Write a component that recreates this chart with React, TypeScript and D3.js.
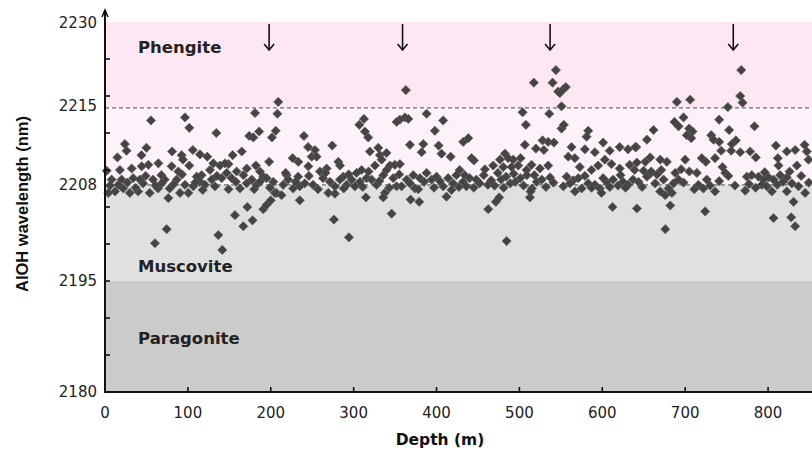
import { useEffect, useRef } from 'react';
import * as d3 from 'd3';

// [depth (m), AlOH wavelength (nm)], split by depth range
const shallowPoints: [number, number][] = [
  [55.5, 2216.7], [96.5, 2217.1], [101.7, 2215.7], [134.3, 2215.0], [181, 2217.7],
  [174, 2214.6], [179, 2214.4], [186, 2215.2], [201.4, 2214.4], [209, 2219.2],
  [208, 2217.6], [206, 2215.3],
  [24, 2213.5], [26, 2212.6], [15, 2211.7], [44, 2212.0], [50, 2213.0], [81, 2212.5],
  [92.5, 2212.0], [94, 2211.4], [106, 2212.7], [114.6, 2212.1], [123.4, 2211.8],
  [130.7, 2210.9], [154, 2212.0], [165, 2212.5], [149, 2210.8], [182, 2210.6],
  [198, 2211.1], [80.4, 2210.5], [101.7, 2210.6], [64.4, 2210.9], [52.3, 2210.7],
  [32.2, 2210.2], [44.3, 2210.5], [2, 2209.9], [116.6, 2209.3], [126.7, 2210.0],
  [138.7, 2210.6], [144.8, 2210.9], [158.8, 2209.8], [171, 2210.2], [187, 2209.8],
  [191, 2209.1], [18, 2210.0], [68, 2209.3], [88.5, 2209.8], [110.6, 2209.1],
  [8, 2208.7], [12, 2207.1], [4, 2206.9], [20, 2208.7], [30, 2206.9], [34, 2208.9],
  [40, 2207.1], [46, 2208.2], [54, 2206.9], [58, 2208.7], [64, 2207.5], [72, 2208.7],
  [78, 2207.5], [86.5, 2208.7], [90.5, 2206.9], [96.5, 2208.0], [100.5, 2206.9],
  [106.6, 2207.8], [114.6, 2208.4], [120.6, 2208.0], [128.7, 2208.7], [132.7, 2207.8],
  [140.7, 2208.9], [146.8, 2209.6], [152.8, 2208.9], [162.8, 2207.5], [170.9, 2208.2],
  [177, 2208.7], [183, 2208.0], [187, 2208.4], [195, 2208.9], [203, 2208.4],
  [207, 2206.9], [22, 2207.5], [42, 2208.7], [68.4, 2208.2], [16, 2208.0],
  [76.4, 2206.2], [156.8, 2203.9], [171.7, 2205.0], [166.9, 2202.4], [178, 2203.2],
  [191, 2204.7], [195, 2205.3], [200, 2205.9], [205, 2206.9], [74.4, 2202.0],
  [60.3, 2200.1], [136.7, 2201.2], [141.5, 2199.2],
];

const upperMidPoints: [number, number][] = [
  [363, 2220.8], [355.8, 2216.8], [361.9, 2217.1], [365.9, 2216.9], [351.8, 2216.5],
  [388, 2217.6], [408, 2216.7], [398, 2215.3], [312.4, 2216.9], [306.8, 2216.1],
  [313.6, 2215.2], [317.6, 2214.4], [240, 2214.6], [274.2, 2213.3], [367.9, 2213.4],
  [384, 2213.5], [402.5, 2213.3], [382, 2212.4], [406, 2212.2], [417, 2211.8],
  [245, 2213.1], [253.3, 2212.7], [249.3, 2211.8], [226.4, 2211.6], [233.2, 2211.1],
  [245.3, 2210.5], [255.3, 2211.8], [281.5, 2211.1], [283.5, 2210.6], [319.6, 2212.5],
  [329.7, 2213.0], [331.7, 2212.0], [339.7, 2212.3], [333.7, 2211.4], [325.7, 2210.6],
  [343.8, 2210.6], [349.8, 2210.7], [355.8, 2210.8], [339.7, 2210.0], [309.6, 2210.0],
  [303.6, 2209.6], [287.5, 2209.1], [267.4, 2210.2], [259.3, 2209.8], [219.1, 2209.3],
  [215, 2208.0], [221, 2208.7], [227, 2207.5], [233, 2209.1], [235, 2207.8],
  [241, 2208.2], [251, 2208.0], [263, 2208.9], [271.4, 2208.4], [277.4, 2207.8],
  [283.5, 2208.7], [291.5, 2208.0], [297.5, 2208.7], [301.5, 2207.8], [307.6, 2208.4],
  [315.6, 2208.9], [321.6, 2208.7], [327.7, 2208.0], [335.7, 2209.3], [347.8, 2208.9],
  [351.8, 2207.8], [357.8, 2207.8], [363.9, 2208.7], [371.9, 2209.3], [373.9, 2207.5],
  [380, 2208.9], [388, 2209.6], [394, 2208.7], [400, 2209.1], [408, 2207.8],
  [414, 2208.9], [420, 2208.2], [424, 2209.3], [213, 2206.6], [269.4, 2206.9],
  [277.4, 2206.8],
  [235, 2205.9], [314.8, 2206.3], [337.7, 2206.9], [335.7, 2206.3], [368.7, 2206.0],
  [379.1, 2205.7], [412, 2206.4], [345.8, 2204.1], [276.2, 2203.3], [294.3, 2200.9],
];

const lowerMidPoints: [number, number][] = [
  [544, 2223.5], [517.4, 2221.8], [540, 2221.8], [546.8, 2220.6], [548.8, 2220.4],
  [552.8, 2220.9], [556, 2221.2], [550.8, 2218.6], [503.8, 2217.8], [536, 2217.6],
  [507.8, 2216.1], [550.8, 2215.6], [553.6, 2216.1], [438.3, 2214.3], [432.2, 2213.8],
  [583, 2215.3], [581, 2214.5], [506.6, 2213.4], [527.9, 2214.0], [534.7, 2213.8],
  [541.6, 2213.7], [519.9, 2212.9], [529.5, 2212.7], [601, 2213.7], [562.9, 2213.1],
  [558.9, 2211.8], [566.9, 2211.6], [579, 2212.8], [591, 2212.4], [609, 2212.6],
  [621, 2213.1], [631, 2212.8], [641, 2213.1], [442.3, 2211.6], [445.1, 2211.3],
  [482.5, 2212.2], [486.5, 2211.6], [492.5, 2211.4], [501.4, 2211.6], [476.5, 2211.4],
  [468.4, 2210.6], [458.4, 2210.1], [480.5, 2210.4], [490.5, 2210.4], [498.6, 2210.6],
  [508.6, 2210.0], [524.7, 2210.2], [534.7, 2210.6], [514.6, 2210.7], [572.9, 2210.4],
  [587, 2210.0], [595, 2210.6], [603, 2211.4], [611, 2210.8], [621, 2210.2],
  [633, 2210.7], [639, 2210.0], [428, 2210.0], [434, 2209.3],
  [440, 2208.9], [448, 2208.7], [452, 2208.2], [462, 2208.0], [470, 2207.9],
  [478, 2208.7], [484, 2209.1], [489, 2208.2], [495, 2208.4], [501, 2208.9],
  [509, 2209.3], [521, 2208.4], [527, 2208.7], [532, 2207.7], [515, 2207.5],
  [537, 2209.0], [557, 2209.1], [565, 2208.6], [571, 2208.9], [567, 2207.1],
  [575, 2207.5], [583, 2208.2], [591, 2208.0], [597, 2207.5], [605, 2208.4],
  [613, 2208.7], [619, 2207.9], [625, 2208.4], [631, 2208.0], [637, 2208.7],
  [432, 2208.4], [436, 2207.8],
  [462.4, 2204.7], [471.6, 2205.7], [475.6, 2206.3], [512.6, 2206.3], [513.4, 2207.1],
  [484.5, 2200.4], [612.3, 2205.0], [599, 2206.9],
];

const deepPoints: [number, number][] = [
  [767.6, 2223.5], [690, 2219.2], [706, 2219.5], [766.4, 2220.0], [769.2, 2219.1],
  [751.5, 2218.5], [687, 2216.5], [698, 2217.1], [692, 2215.9], [704.8, 2215.6],
  [708.9, 2215.2], [702, 2214.7], [707.3, 2214.3], [741, 2216.8], [753, 2215.4],
  [783.6, 2215.9], [661.8, 2215.4], [653.8, 2214.1], [639.7, 2213.1], [657.8, 2211.7],
  [651.8, 2211.1], [731.4, 2214.7], [734.2, 2214.1], [741, 2213.8], [761.1, 2214.0],
  [756.3, 2213.5], [743.4, 2212.6], [755.5, 2212.6], [766.4, 2212.4], [809.4, 2213.3],
  [822.6, 2212.5], [832.7, 2212.7], [844, 2213.4], [846.7, 2212.5], [778.4, 2212.5],
  [785.2, 2211.7], [811.8, 2211.6], [812.6, 2210.6], [834.7, 2210.6], [848.8, 2211.4],
  [669.9, 2211.4], [677.9, 2211.1], [700, 2211.4], [695.2, 2210.1], [714.1, 2209.6],
  [720, 2211.6], [725, 2211.1], [736, 2211.6], [745, 2210.4], [748.3, 2209.6],
  [641.7, 2211.0], [649.8, 2209.9], [657.8, 2209.5], [671.1, 2210.0],
  [643.7, 2208.4], [653.8, 2209.1], [663.8, 2208.2], [673.9, 2208.7], [679.9, 2207.5],
  [686, 2208.2], [692, 2208.7], [669.9, 2207.1], [675.9, 2206.6], [684, 2206.9],
  [716, 2208.0], [730, 2207.9], [736, 2207.1], [722, 2207.5], [774.4, 2209.1],
  [780.4, 2209.3], [788.5, 2209.1], [794.5, 2208.7], [800.5, 2209.0], [806.6, 2208.7],
  [814.6, 2209.3], [822.6, 2209.0], [792.5, 2208.0], [798.5, 2207.8], [804.5, 2207.1],
  [772.4, 2207.2], [828.7, 2208.2], [836.7, 2207.8], [844.7, 2206.9], [822.6, 2207.1],
  [641.7, 2204.8], [682, 2205.2], [676, 2202.0], [724.1, 2204.4], [806.6, 2203.5],
  [827.9, 2203.6], [832.7, 2202.4], [830.7, 2205.7],
];

// extra overlapping points in the crowded 2206–2210 nm band
const bandPoints: [number, number][] = [
  [6, 2207.9], [27, 2208.3], [37, 2207.6], [49, 2209.2], [61, 2207.9], [83, 2208.1],
  [93, 2209.4], [109, 2208.3], [118, 2207.3], [135, 2209.2], [149, 2207.4], [158, 2208.4],
  [167, 2209.3], [180, 2207.4], [199, 2207.6], [218, 2209.6], [230, 2208.4], [246, 2209.2],
  [257, 2207.4], [266, 2209.6], [288, 2207.5], [294, 2209.4], [311, 2207.7], [318, 2209.8],
  [331, 2208.5], [343, 2207.6], [355, 2209.4], [368, 2208.2], [378, 2207.4], [385, 2208.4],
  [397, 2207.6], [404, 2208.5], [418, 2207.3], [427, 2207.7], [445, 2207.6], [457, 2209.3],
  [466, 2208.6], [474, 2209.6], [481, 2207.6], [493, 2209.5], [505, 2207.9], [518, 2209.3],
  [541, 2208.3], [553, 2207.8], [561, 2208.2], [579, 2209.2], [587, 2207.6], [601, 2208.9],
  [609, 2207.7], [622, 2209.3], [628, 2207.6], [648, 2207.7], [659, 2209.8], [666, 2209.4],
  [688, 2209.6], [698, 2208.3], [705, 2209.8], [711, 2207.4], [726, 2208.7], [741, 2208.5],
  [752, 2209.2], [760, 2207.9], [777, 2208.1], [785, 2207.6], [796, 2209.7], [811, 2208.0],
  [818, 2208.4], [826, 2209.8], [840, 2209.2], [849, 2208.3],
];

const zoneBounds = [2180, 2195, 2208, 2218.4, 2230];
const zoneFills = ['#cbcbcb', '#e0e0e0', '#fdf2f9', '#fde7f2'];
const zoneLabels = ['Paragonite', 'Muscovite', 'Phengite'];
const zoneLabelValues = [2186.5, 2196.2, 2225.8];
const dashedValues = [2208, 2218.4];

const xTicks = [0, 100, 200, 300, 400, 500, 600, 700, 800];
const yTickMarks = [2185, 2190, 2195, 2200, 2205, 2210, 2215, 2220, 2225];
const yTickLabels = ['2180', '2195', '2208', '2215', '2230'];
const yTickLabelValues = [2180, 2195, 2208, 2218.7, 2229.9];

const arrowDepths = [198, 359, 537, 758];

const width = 812;
const height = 450;

export default function App() {
  const svgRef = useRef<SVGSVGElement>(null);

  useEffect(() => {
    if (!svgRef.current) return;
    const svg = d3.select(svgRef.current);
    svg.selectAll('*').remove();

    const left = 105;
    const bottom = 392;
    const top = 22;

    const x = d3.scaleLinear().domain([0, 853]).range([left, width]);
    const y = d3.scaleLinear().domain([2180, 2230]).range([bottom, top]);

    const tickFont = 'DejaVu Sans, Verdana, sans-serif';

    // background zones
    svg
      .selectAll('.zone')
      .data(zoneFills)
      .join('rect')
      .attr('x', left)
      .attr('width', width - left)
      .attr('y', (_, i) => y(zoneBounds[i + 1]))
      .attr('height', (_, i) => y(zoneBounds[i]) - y(zoneBounds[i + 1]))
      .attr('fill', d => d);

    // dashed boundaries
    svg
      .selectAll('.dash')
      .data(dashedValues)
      .join('line')
      .attr('x1', left)
      .attr('x2', width)
      .attr('y1', d => y(d))
      .attr('y2', d => y(d))
      .attr('stroke', '#6e6e6e')
      .attr('stroke-width', 1.2)
      .attr('stroke-dasharray', '4,3');

    // zone labels
    svg
      .selectAll('.zlabel')
      .data(zoneLabels)
      .join('text')
      .attr('x', 138)
      .attr('y', (_, i) => y(zoneLabelValues[i]))
      .style('font-family', 'DejaVu Sans, sans-serif')
      .style('font-weight', 'bold')
      .style('font-size', '16.5px')
      .style('fill', '#222')
      .text(d => d);

    // points
    const pts = [...shallowPoints, ...upperMidPoints, ...lowerMidPoints, ...deepPoints, ...bandPoints];
    const side = 6.5;
    svg
      .append('g')
      .selectAll('rect')
      .data(pts)
      .join('rect')
      .attr('x', -side / 2)
      .attr('y', -side / 2)
      .attr('width', side)
      .attr('height', side)
      .attr('transform', d => `translate(${x(d[0])},${y(d[1])}) rotate(45)`)
      .attr('fill', '#444')
      .attr('stroke', '#5e5e5e')
      .attr('stroke-width', 0.7);

    // arrows
    const arrows = svg.append('g').attr('stroke', '#111').attr('fill', 'none').attr('stroke-width', 1.6);
    arrowDepths.forEach(d => {
      const ax = x(d);
      arrows.append('line').attr('x1', ax).attr('x2', ax).attr('y1', 24).attr('y2', 50);
      arrows.append('path').attr('d', `M${ax - 5},${44} L${ax},${50} L${ax + 5},${44}`);
    });

    // axes
    const axis = svg.append('g').attr('stroke', '#111').attr('stroke-width', 2);
    axis.append('line').attr('x1', left).attr('x2', width).attr('y1', bottom).attr('y2', bottom);
    axis.append('line').attr('x1', left).attr('x2', left).attr('y1', bottom + 1).attr('y2', 11);
    axis
      .append('path')
      .attr('d', `M${left - 3},17 L${left},10 L${left + 3},17`)
      .attr('fill', 'none')
      .attr('stroke-width', 1.5);

    svg
      .selectAll('.ytick')
      .data(yTickMarks)
      .join('line')
      .attr('x1', left)
      .attr('x2', left + 5)
      .attr('y1', d => y(d))
      .attr('y2', d => y(d))
      .attr('stroke', '#111')
      .attr('stroke-width', 1.6);

    svg
      .selectAll('.xtick')
      .data(xTicks.filter(t => t > 0))
      .join('line')
      .attr('x1', d => x(d))
      .attr('x2', d => x(d))
      .attr('y1', bottom)
      .attr('y2', bottom - 5)
      .attr('stroke', '#111')
      .attr('stroke-width', 1.6);

    svg
      .selectAll('.ylabel')
      .data(yTickLabels)
      .join('text')
      .attr('x', 97)
      .attr('y', (_, i) => y(yTickLabelValues[i]))
      .attr('dy', '0.36em')
      .attr('text-anchor', 'end')
      .style('font-family', tickFont)
      .style('font-size', '15px')
      .style('fill', '#222')
      .text(d => d);

    svg
      .selectAll('.xlabel')
      .data(xTicks)
      .join('text')
      .attr('x', d => x(d))
      .attr('y', 418)
      .attr('text-anchor', 'middle')
      .style('font-family', tickFont)
      .style('font-size', '15px')
      .style('fill', '#222')
      .text(d => d);

    svg
      .append('text')
      .attr('x', 440)
      .attr('y', 445)
      .attr('text-anchor', 'middle')
      .style('font-family', 'DejaVu Sans, sans-serif')
      .style('font-weight', 'bold')
      .style('font-size', '15.5px')
      .style('fill', '#111')
      .text('Depth (m)');

    svg
      .append('text')
      .attr('transform', 'translate(28,204) rotate(-90)')
      .attr('text-anchor', 'middle')
      .style('font-family', 'Liberation Sans, Arial, sans-serif')
      .style('font-weight', 'bold')
      .style('font-size', '16.5px')
      .style('fill', '#111')
      .text('AlOH wavelength (nm)');
  }, []);

  return (
    <svg
      ref={svgRef}
      width={width}
      height={height}
      style={{ position: 'absolute', left: 0, top: 0, background: '#fff' }}
    />
  );
}
